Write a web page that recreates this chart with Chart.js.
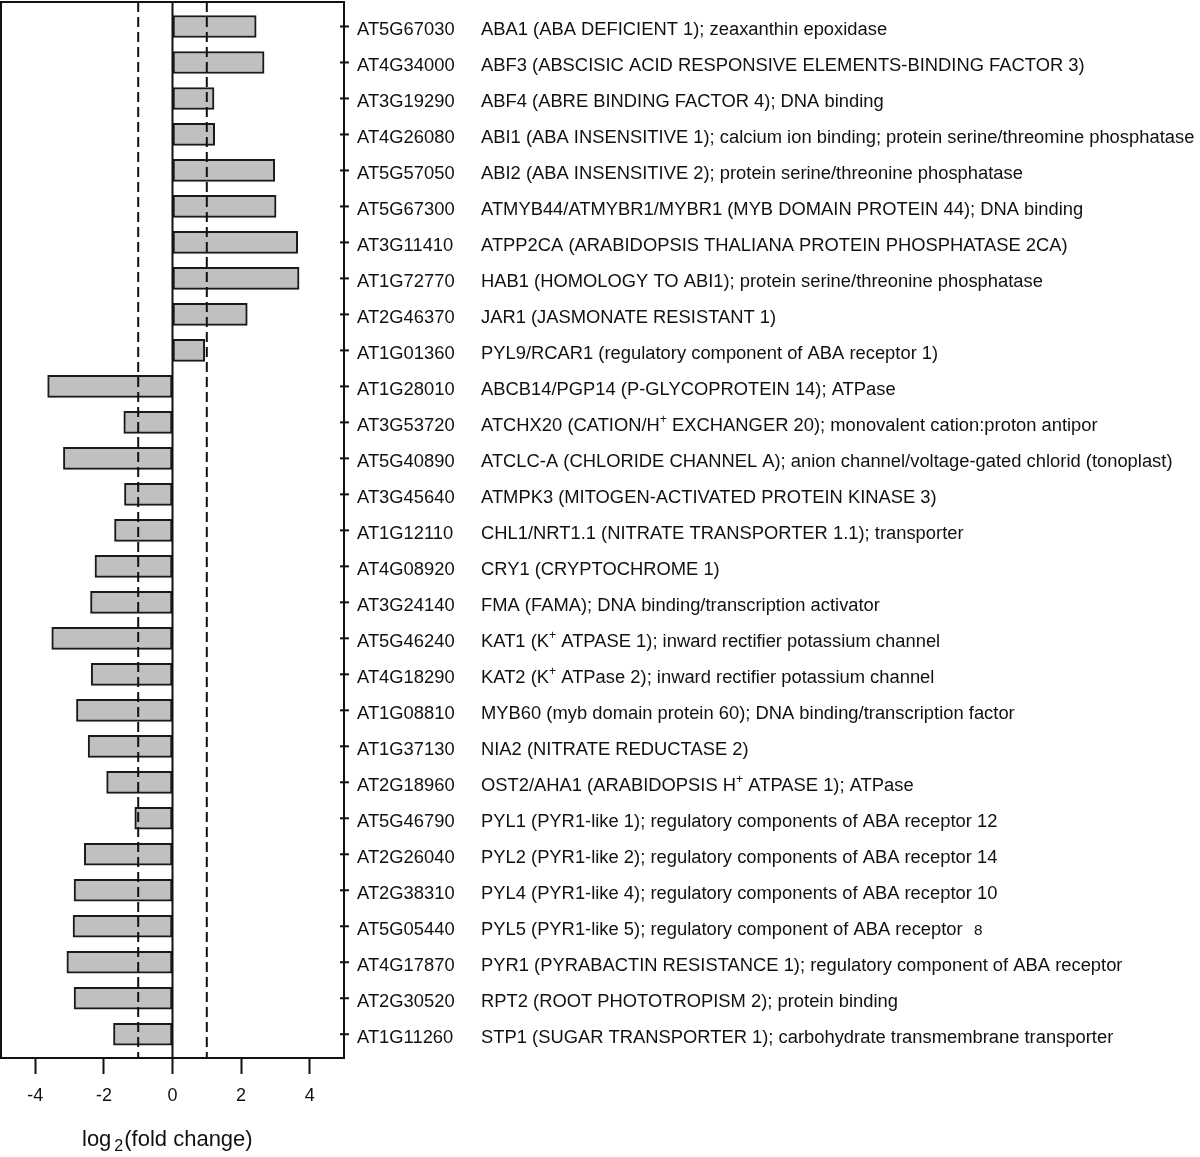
<!DOCTYPE html>
<html>
<head>
<meta charset="utf-8">
<title>log2 fold change of ABA related genes</title>
<script src="https://cdn.jsdelivr.net/npm/chart.js@4.4.1/dist/chart.umd.min.js"></script>
<style>
    body { margin: 0; background: #fff; }
    #wrap { width: 1200px; height: 1157px; position: relative; }
</style>
</head>
<body>
<div id="wrap"><canvas id="foldChart"></canvas></div>
<script>
// Gene ids, top to bottom
const geneIds = [
    'AT5G67030', 'AT4G34000', 'AT3G19290', 'AT4G26080', 'AT5G57050', 'AT5G67300',
    'AT3G11410', 'AT1G72770', 'AT2G46370', 'AT1G01360', 'AT1G28010', 'AT3G53720',
    'AT5G40890', 'AT3G45640', 'AT1G12110', 'AT4G08920', 'AT3G24140', 'AT5G46240',
    'AT4G18290', 'AT1G08810', 'AT1G37130', 'AT2G18960', 'AT5G46790', 'AT2G26040',
    'AT2G38310', 'AT5G05440', 'AT4G17870', 'AT2G30520', 'AT1G11260'
];

// Descriptions ('^' = superscript char, '~' = rest in small type)
const descriptions = [
    'ABA1 (ABA DEFICIENT 1); zeaxanthin epoxidase',
    'ABF3 (ABSCISIC ACID RESPONSIVE ELEMENTS-BINDING FACTOR 3)',
    'ABF4 (ABRE BINDING FACTOR 4); DNA binding',
    'ABI1 (ABA INSENSITIVE 1); calcium ion binding; protein serine/threomine phosphatase',
    'ABI2 (ABA INSENSITIVE 2); protein serine/threonine phosphatase',
    'ATMYB44/ATMYBR1/MYBR1 (MYB DOMAIN PROTEIN 44); DNA binding',
    'ATPP2CA (ARABIDOPSIS THALIANA PROTEIN PHOSPHATASE 2CA)',
    'HAB1 (HOMOLOGY TO ABI1); protein serine/threonine phosphatase',
    'JAR1 (JASMONATE RESISTANT 1)',
    'PYL9/RCAR1 (regulatory component of ABA receptor 1)',
    'ABCB14/PGP14 (P-GLYCOPROTEIN 14); ATPase',
    'ATCHX20 (CATION/H^+ EXCHANGER 20); monovalent cation:proton antipor',
    'ATCLC-A (CHLORIDE CHANNEL A); anion channel/voltage-gated chlorid (tonoplast)',
    'ATMPK3 (MITOGEN-ACTIVATED PROTEIN KINASE 3)',
    'CHL1/NRT1.1 (NITRATE TRANSPORTER 1.1); transporter',
    'CRY1 (CRYPTOCHROME 1)',
    'FMA (FAMA); DNA binding/transcription activator',
    'KAT1 (K^+ ATPASE 1); inward rectifier potassium channel',
    'KAT2 (K^+ ATPase 2); inward rectifier potassium channel',
    'MYB60 (myb domain protein 60); DNA binding/transcription factor',
    'NIA2 (NITRATE REDUCTASE 2)',
    'OST2/AHA1 (ARABIDOPSIS H^+ ATPASE 1); ATPase',
    'PYL1 (PYR1-like 1); regulatory components of ABA receptor 12',
    'PYL2 (PYR1-like 2); regulatory components of ABA receptor 14',
    'PYL4 (PYR1-like 4); regulatory components of ABA receptor 10',
    'PYL5 (PYR1-like 5); regulatory component of ABA receptor ~8',
    'PYR1 (PYRABACTIN RESISTANCE 1); regulatory component of ABA receptor',
    'RPT2 (ROOT PHOTOTROPISM 2); protein binding',
    'STP1 (SUGAR TRANSPORTER 1); carbohydrate transmembrane transporter'
];

// log2(fold change)
const foldChange = [
    2.44, 2.67, 1.21, 1.23, 2.98, 3.02, 3.65, 3.69, 2.18, 0.94,
    -3.64, -1.42, -3.18, -1.40, -1.69, -2.26, -2.39, -3.52, -2.37, -2.80,
    -2.46, -1.92, -1.10, -2.57, -2.87, -2.90, -3.08, -2.87, -1.72
];

const xTicks = [-4, -2, 0, 2, 4];
const cutoffs = [-1, 1];

const FONT = '"Liberation Sans", Arial, Helvetica, sans-serif';
const INK = '#111';

document.addEventListener('DOMContentLoaded', function() {
    Chart.defaults.font.family = FONT;
    Chart.defaults.color = INK;

    const ctx = document.getElementById('foldChart').getContext('2d');

    new Chart(ctx, {
        type: 'bar',
        data: {
            datasets: [{
                data: foldChange.map((v, i) => ({ x: v, y: i })),
                backgroundColor: '#c0c0c0',
                borderColor: '#1a1a1a',
                borderWidth: 2,
                borderSkipped: false,
                barThickness: 22
            }]
        },
        options: {
            indexAxis: 'y',
            responsive: true,
            maintainAspectRatio: false,
            animation: false,
            layout: {
                padding: { left: 1, top: 2, right: 856, bottom: 0 }
            },
            scales: {
                x: {
                    type: 'linear',
                    min: -5,
                    max: 5,
                    afterBuildTicks: function(scale) {
                        scale.ticks = xTicks.map(v => ({ value: v }));
                    },
                    afterFit: function(scale) {
                        scale.height = 99;
                    },
                    grid: {
                        drawOnChartArea: false,
                        drawTicks: true,
                        tickLength: 16,
                        tickWidth: 2,
                        tickColor: INK
                    },
                    border: { display: false },
                    ticks: {
                        font: { size: 18 },
                        color: INK,
                        padding: 11
                    }
                },
                y: {
                    type: 'linear',
                    reverse: true,
                    offset: false,
                    min: -0.68,
                    max: 28.66,
                    display: false
                }
            },
            plugins: {
                legend: { display: false },
                tooltip: { enabled: false }
            }
        },
        plugins: [frameAndLabels]
    });
});

// Draw one label, handling superscript '+' and the small trailing text
function drawRichText(ctx, str, x, y, size) {
    const tokens = str.split(/(\^.|~.*)/).filter(Boolean);
    let pos = 0;
    ctx.save();
    ctx.translate(x, y);
    ctx.scale(1.02, 1);
    tokens.forEach(t => {
        if (t[0] === '^') {
            ctx.font = Math.round(size * 0.65) + 'px ' + FONT;
            ctx.fillText(t[1], pos, -size * 0.42);
            pos += ctx.measureText(t[1]).width;
        } else if (t[0] === '~') {
            ctx.font = Math.round(size * 0.85) + 'px ' + FONT;
            pos += 6;
            ctx.fillText(t.slice(1), pos, 0);
            pos += ctx.measureText(t.slice(1)).width;
        } else {
            ctx.font = size + 'px ' + FONT;
            ctx.fillText(t, pos, 0);
            pos += ctx.measureText(t).width;
        }
    });
    ctx.restore();
}

const frameAndLabels = {
    id: 'frameAndLabels',
    afterDatasetsDraw(chart) {
        const { ctx, chartArea: area, scales } = chart;
        const xs = scales.x, ys = scales.y;

        ctx.save();
        ctx.strokeStyle = INK;
        ctx.fillStyle = INK;

        // zero line
        ctx.lineWidth = 2;
        const x0 = xs.getPixelForValue(0);
        ctx.beginPath();
        ctx.moveTo(x0, area.top);
        ctx.lineTo(x0, area.bottom);
        ctx.stroke();

        // dashed cut-off lines
        ctx.setLineDash([10, 5]);
        cutoffs.forEach(c => {
            const px = xs.getPixelForValue(c);
            ctx.beginPath();
            ctx.moveTo(px, area.top);
            ctx.lineTo(px, area.bottom);
            ctx.stroke();
        });
        ctx.setLineDash([]);

        // box
        ctx.strokeRect(area.left, area.top, area.right - area.left, area.bottom - area.top);

        // right side ticks and labels
        ctx.textBaseline = 'alphabetic';
        ctx.textAlign = 'left';
        geneIds.forEach((id, i) => {
            const py = ys.getPixelForValue(i);
            ctx.beginPath();
            ctx.moveTo(area.right - 4, py);
            ctx.lineTo(area.right + 5, py);
            ctx.stroke();
            drawRichText(ctx, id, area.right + 13, py + 8.5, 18);
            drawRichText(ctx, descriptions[i], area.right + 137, py + 8.5, 18);
        });

        // axis title: log2(fold change)
        const ty = 1146;
        let tx = 82;
        ctx.font = '22px ' + FONT;
        ctx.fillText('log', tx, ty);
        tx += ctx.measureText('log').width + 3;
        ctx.font = '16px ' + FONT;
        ctx.fillText('2', tx, ty + 5);
        tx += ctx.measureText('2').width + 1;
        ctx.font = '22px ' + FONT;
        ctx.fillText('(fold change)', tx, ty);

        ctx.restore();
    }
};
</script>
</body>
</html>
